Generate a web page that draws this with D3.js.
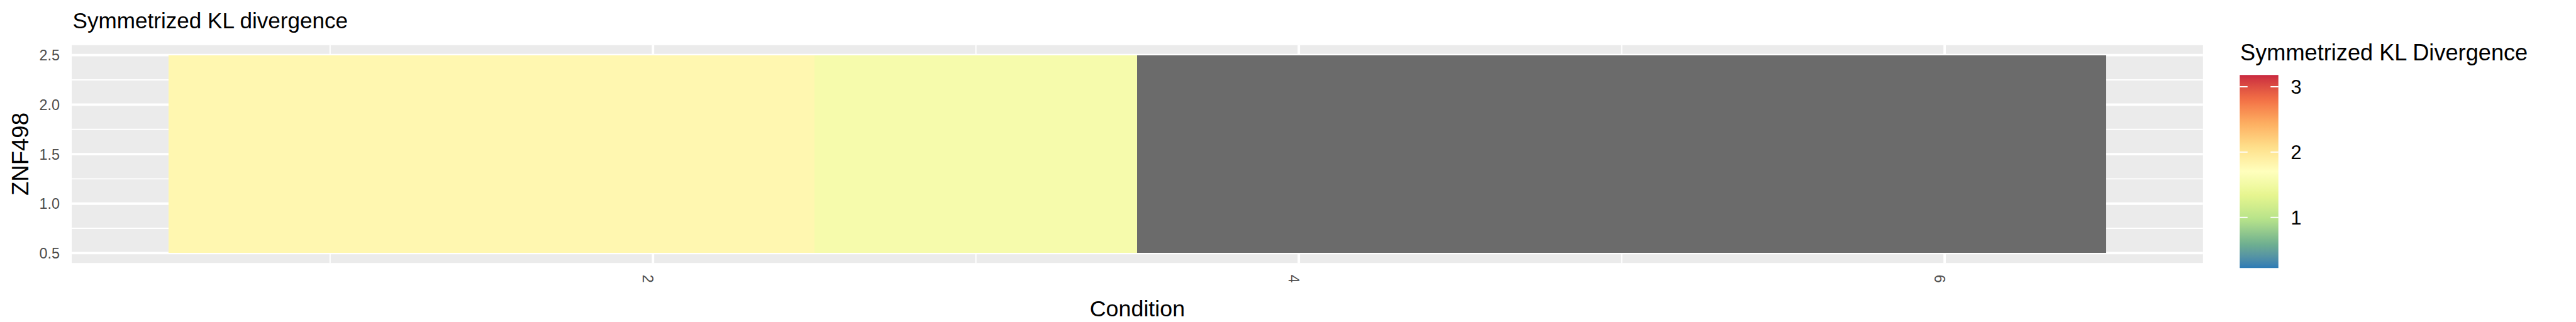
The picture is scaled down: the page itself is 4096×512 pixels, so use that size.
<!DOCTYPE html>
<html>
<head>
<meta charset="utf-8">
<script src="https://cdn.jsdelivr.net/npm/d3@7"></script>
<style>
  html, body { margin: 0; padding: 0; background: #ffffff; }
  svg { display: block; }
  text { font-family: "Liberation Sans", Arial, Helvetica, sans-serif; }
</style>
</head>
<body>
<div id="chart"></div>
<script>
// ---------------- data ----------------
const chartTitle = "Symmetrized KL divergence";
const gene = "ZNF498";
const xTitle = "Condition";
const legendTitle = "Symmetrized KL Divergence";
const conditions = [1, 2, 3, 4, 5, 6];
const rows = [1, 2];
const klValues = [1.80, 1.80, 1.57, null, null, null];
const xTicks = [2, 4, 6];
const xMinor = [1, 3, 5];
const yTicks = [0.5, 1.0, 1.5, 2.0, 2.5];
const yMinor = [0.75, 1.25, 1.75, 2.25];
const legendTicks = [1, 2, 3];
const colorLimits = [0.225, 3.18];
const paletteColors = ["#2C7BB6", "#6FB08F", "#B5E28A", "#E6F58E", "#FFFFBD",
                       "#FEE08B", "#FDAE61", "#F26E45", "#C9283F"];

// ---------------- layout (reference px; scaled by viewBox) ----------------
const W = 5600, H = 700;
const svg = d3.select("#chart").append("svg")
  .attr("width", 4096).attr("height", 512)
  .attr("viewBox", `0 0 ${W} ${H}`);

const P = { left: 156, right: 4789, top: 98.3, bottom: 571.7 };
const x = d3.scaleLinear().domain([0.2, 6.8]).range([P.left, P.right]);
const y = d3.scaleLinear().domain([0.4, 2.6]).range([P.bottom, P.top]);

const color = d3.scaleLinear()
  .domain(d3.range(paletteColors.length).map(i =>
    colorLimits[0] + i * (colorLimits[1] - colorLimits[0]) / (paletteColors.length - 1)))
  .range(paletteColors)
  .interpolate(d3.interpolateLab)
  .clamp(true);
const naColor = "#6B6B6B";

// panel background
svg.append("rect")
  .attr("x", P.left).attr("y", P.top)
  .attr("width", P.right - P.left).attr("height", P.bottom - P.top)
  .attr("fill", "#EBEBEB");

const grid = svg.append("g");
grid.selectAll(".ymin").data(yMinor).join("line")
  .attr("x1", P.left).attr("x2", P.right)
  .attr("y1", d => y(d)).attr("y2", d => y(d))
  .attr("stroke", "#ffffff").attr("stroke-width", 2.6);
grid.selectAll(".xmin").data(xMinor).join("line")
  .attr("y1", P.top).attr("y2", P.bottom)
  .attr("x1", d => x(d)).attr("x2", d => x(d))
  .attr("stroke", "#ffffff").attr("stroke-width", 2.6);
grid.selectAll(".ymaj").data(yTicks).join("line")
  .attr("x1", P.left).attr("x2", P.right)
  .attr("y1", d => y(d)).attr("y2", d => y(d))
  .attr("stroke", "#ffffff").attr("stroke-width", 5.2);
grid.selectAll(".xmaj").data(xTicks).join("line")
  .attr("y1", P.top).attr("y2", P.bottom)
  .attr("x1", d => x(d)).attr("x2", d => x(d))
  .attr("stroke", "#ffffff").attr("stroke-width", 5.2);

// tiles
const cells = [];
rows.forEach(r => conditions.forEach((c, i) => cells.push({ c, r, v: klValues[i] })));
svg.append("g").attr("shape-rendering", "crispEdges")
  .selectAll("rect").data(cells).join("rect")
  .attr("x", d => x(d.c - 0.5))
  .attr("width", d => x(d.c + 0.5) - x(d.c - 0.5))
  .attr("y", d => y(d.r + 0.5))
  .attr("height", d => y(d.r - 0.5) - y(d.r + 0.5))
  .attr("fill", d => d.v == null ? naColor : color(d.v));

// y axis
const yAxis = svg.append("g").attr("transform", `translate(${P.left},0)`)
  .call(d3.axisLeft(y).tickValues(yTicks).tickSize(0).tickPadding(26).tickFormat(d3.format(".1f")));
yAxis.select(".domain").remove();
yAxis.selectAll("text").attr("font-size", 32).attr("fill", "#4D4D4D")
  .attr("font-family", "Liberation Sans, Arial, sans-serif").attr("dy", "0.35em");

// x axis (labels rotated clockwise)
const xAxis = svg.append("g").attr("transform", `translate(0,${P.bottom})`)
  .call(d3.axisBottom(x).tickValues(xTicks).tickSize(0).tickFormat(d3.format("d")));
xAxis.select(".domain").remove();
xAxis.selectAll("text")
  .attr("font-size", 32).attr("fill", "#4D4D4D")
  .attr("font-family", "Liberation Sans, Arial, sans-serif")
  .attr("x", 0).attr("y", 0).attr("dy", "0.72em")
  .attr("text-anchor", "start")
  .attr("transform", "translate(0,25.5) rotate(90)");

// titles
svg.append("text").attr("x", 158).attr("y", 62)
  .attr("font-size", 48).attr("fill", "#000").text(chartTitle);
svg.append("text").attr("x", (P.left + P.right) / 2).attr("y", 688)
  .attr("text-anchor", "middle").attr("font-size", 49).attr("fill", "#000").text(xTitle);
svg.append("text")
  .attr("transform", `translate(62,${(P.top + P.bottom) / 2}) rotate(-90)`)
  .attr("text-anchor", "middle").attr("font-size", 50).attr("fill", "#000").text(gene);

// legend
const L = { x: 4869, w: 84, top: 163, bottom: 582.7 };
const ly = d3.scaleLinear().domain(colorLimits).range([L.bottom, L.top]);
const grad = svg.append("defs").append("linearGradient")
  .attr("id", "cbar").attr("x1", 0).attr("y1", 1).attr("x2", 0).attr("y2", 0);
d3.range(0, 1.0001, 0.02).forEach(t => {
  const v = colorLimits[0] + t * (colorLimits[1] - colorLimits[0]);
  grad.append("stop").attr("offset", t).attr("stop-color", color(v));
});
svg.append("rect").attr("x", L.x).attr("y", L.top)
  .attr("width", L.w).attr("height", L.bottom - L.top)
  .attr("fill", "url(#cbar)");
const lt = svg.append("g");
lt.selectAll(".tl").data(legendTicks).join("line")
  .attr("x1", L.x).attr("x2", L.x + 17)
  .attr("y1", d => ly(d)).attr("y2", d => ly(d))
  .attr("stroke", "#fff").attr("stroke-width", 2.5);
lt.selectAll(".tr").data(legendTicks).join("line")
  .attr("x1", L.x + L.w - 17).attr("x2", L.x + L.w)
  .attr("y1", d => ly(d)).attr("y2", d => ly(d))
  .attr("stroke", "#fff").attr("stroke-width", 2.5);
const lAxis = svg.append("g").attr("transform", `translate(${L.x + L.w},0)`)
  .call(d3.axisRight(ly).tickValues(legendTicks).tickSize(0).tickPadding(27).tickFormat(d3.format("d")));
lAxis.select(".domain").remove();
lAxis.selectAll("text").attr("font-size", 42).attr("fill", "#000")
  .attr("font-family", "Liberation Sans, Arial, sans-serif").attr("dy", "0.35em");
svg.append("text").attr("x", 4870).attr("y", 131.7)
  .attr("font-size", 49.5).attr("fill", "#000").text(legendTitle);
</script>
</body>
</html>
